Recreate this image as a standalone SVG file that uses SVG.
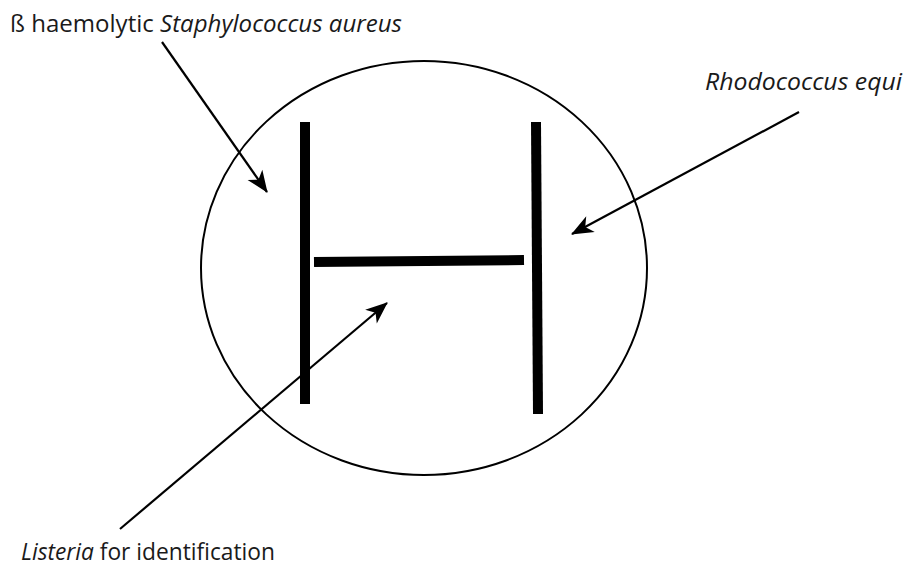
<svg xmlns="http://www.w3.org/2000/svg" width="904" height="566" viewBox="0 0 904 566">
<style>
.lbl{font-family:"Open Sans","Noto Sans","Liberation Sans",sans-serif;font-size:23px;fill:#1a1a1a;font-weight:400}
.it{font-style:italic}
.bar{stroke:#000;stroke-width:10;fill:none}
.conn{stroke:#000;stroke-width:2.2;fill:none;marker-end:url(#ah)}
</style>
<defs>
<marker id="ah" markerUnits="userSpaceOnUse" viewBox="-22 -10 24 20" refX="0" refY="0" markerWidth="24" markerHeight="20" orient="auto">
<path d="M1,0 L-21,-9 L-15,0 L-21,9 Z" fill="#000"/>
</marker>
</defs>
<rect width="904" height="566" fill="#fff"/>
<g id="plate">
<ellipse cx="424" cy="268" rx="223" ry="207" fill="none" stroke="#000" stroke-width="2"/>
</g>
<g id="streaks">
<line class="bar" x1="305" y1="122" x2="305" y2="404"/>
<line class="bar" x1="536" y1="122" x2="538" y2="414"/>
<line class="bar" x1="314" y1="262" x2="524" y2="260"/>
</g>
<g id="connectors">
<line class="conn" x1="162" y1="42" x2="267" y2="192"/>
<line class="conn" x1="799" y1="112" x2="572" y2="234"/>
<line class="conn" x1="120" y1="529" x2="387" y2="303"/>
</g>
<g id="label-staph">
<text class="lbl" x="10" y="32" textLength="392" lengthAdjust="spacingAndGlyphs">ß haemolytic <tspan class="it">Staphylococcus aureus</tspan></text>
</g>
<g id="label-rhodo">
<text class="lbl it" x="705" y="90" textLength="197" lengthAdjust="spacingAndGlyphs">Rhodococcus equi</text>
</g>
<g id="label-listeria">
<text class="lbl" x="21" y="560" textLength="254" lengthAdjust="spacingAndGlyphs"><tspan class="it">Listeria</tspan> for identification</text>
</g>
</svg>
